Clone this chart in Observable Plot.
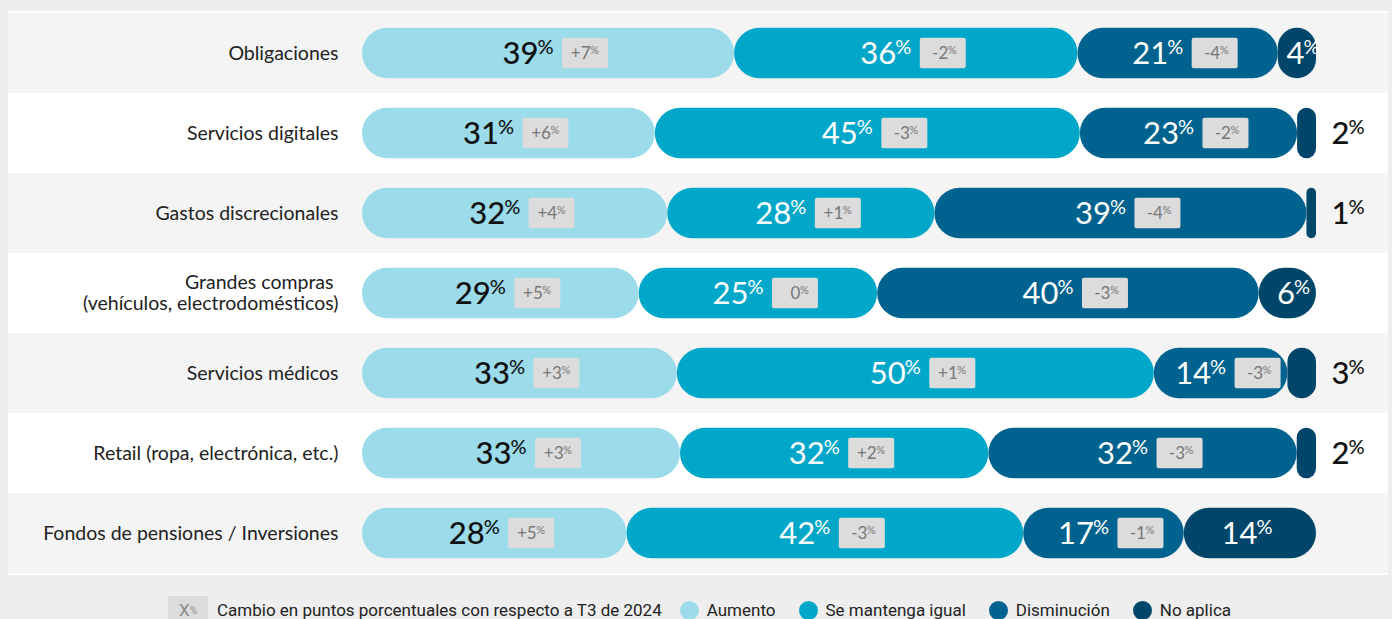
<!DOCTYPE html>
<html><head><meta charset="utf-8">
<script src="https://cdn.jsdelivr.net/npm/d3@7"></script>
<script src="https://cdn.jsdelivr.net/npm/@observablehq/plot@0.6"></script>
<style>
html,body{margin:0;padding:0;background:#eeeeee;width:1392px;height:619px;overflow:hidden;}
#chart{position:absolute;left:8px;top:11px;width:1380px;}
#chart svg{display:block;}
#legend{position:absolute;left:168px;top:596px;height:28px;display:flex;align-items:center;font-family:Roboto,sans-serif;font-size:17px;color:#222;white-space:nowrap;}
#legend .box{width:40px;height:28px;background:#dcdcdc;color:#8a8a8a;display:flex;align-items:center;justify-content:center;font-size:17px;margin-right:9px;}
#legend .box sup{font-size:10px;vertical-align:6px;}
#legend .dot{width:19px;height:19px;border-radius:50%;display:inline-block;margin-right:8px;}
#legend .item{display:flex;align-items:center;margin-right:23px;}
</style>
</head><body>
<div id="chart"></div>
<div id="legend"></div>
<script>
const categories = [
  "Obligaciones",
  "Servicios digitales",
  "Gastos discrecionales",
  "Grandes compras \n(vehículos, electrodomésticos)",
  "Servicios médicos",
  "Retail (ropa, electrónica, etc.)",
  "Fondos de pensiones / Inversiones"
];
const seriesNames = ["Aumento", "Se mantenga igual", "Disminución", "No aplica"];
const seriesColors = ["#9bdbea", "#00a7c9", "#00628e", "#00466a"];
const aumento     = [39, 31, 32, 29, 33, 33, 28];
const igual       = [36, 45, 28, 25, 50, 32, 42];
const disminucion = [21, 23, 39, 40, 14, 32, 17];
const noAplica    = [4, 2, 1, 6, 3, 2, 14];
const cambioAumento     = ["+7", "+6", "+4", "+5", "+3", "+3", "+5"];
const cambioIgual       = ["-2", "-3", "+1", "0", "+1", "+2", "-3"];
const cambioDisminucion = ["-4", "-2", "-4", "-3", "-3", "-3", "-1"];
const legendNote = "Cambio en puntos porcentuales con respecto a T3 de 2024";

const values = [aumento, igual, disminucion, noAplica];
const changes = [cambioAumento, cambioIgual, cambioDisminucion, null];
const rows = [];
categories.forEach((c, i) => {
  seriesNames.forEach((s, j) => {
    rows.push({category: c, series: s, value: values[j][i], change: changes[j] ? changes[j][i] : null});
  });
});

const stk = () => Plot.stackX({x: "value", y: "category", offset: "normalize"});
const isNA = d => d.series === "No aplica";
const naInside = d => isNA(d) && d.value >= 4;

function pctLabel(pred, fill, dx, atEnd, weight) {
  const s = stk();
  const base = atEnd ? {...s, x: s.x2} : s;
  return [
    Plot.text(rows, {...base, text: d => pred(d) ? String(d.value) : null, textAnchor: "end", dx, dy: 1, fill, fontSize: 31, fontWeight: weight}),
    Plot.text(rows, {...base, text: d => pred(d) ? "%" : null, textAnchor: "start", dx: dx - 1, dy: -6, fill, fontSize: 20, fontWeight: weight})
  ];
}

const sb = stk();
const sc = stk();
const sc2 = stk();

const plot = Plot.plot({
  width: 1380,
  height: 564,
  marginLeft: 354,
  marginRight: 72,
  marginTop: 0,
  marginBottom: 0,
  x: {domain: [0, 1], axis: null},
  y: {domain: categories, axis: null, padding: 0},
  color: {domain: seriesNames, range: seriesColors},
  style: {fontFamily: "Lato, sans-serif", background: "#ffffff", overflow: "visible"},
  marks: [
    Plot.cell(categories, {y: d => d, fill: "#f4f4f4", filter: (d, i) => i % 2 === 0, insetLeft: -354, insetRight: -72}),
    Plot.barX(rows, Plot.stackX({x: "value", y: "category", fill: "series", offset: "normalize", insetTop: 14.8, insetBottom: 14.8})),
    Plot.barX(rows, {...sb, x1: sb.x, x2: sb.x, fill: "#dcdcdc", fillOpacity: d => d.change == null ? 0 : 1, insetTop: 24.8, insetBottom: 24.8, insetLeft: 14, insetRight: -60, rx: 2}),
    Plot.text(rows, {...sc, text: d => d.change, textAnchor: "end", dx: 42, dy: 0.5, fill: "#777", fontSize: 17}),
    Plot.text(rows, {...sc2, text: d => d.change == null ? null : "%", textAnchor: "start", dx: 41.5, dy: -3, fill: "#777", fontSize: 11}),
    ...pctLabel(d => d.series === "Aumento", "#111", -10, false, 500),
    ...pctLabel(d => d.series === "Se mantenga igual" || d.series === "Disminución", "#fff", -10, false, 400),
    ...pctLabel(naInside, "#fff", 7, false, 400),
    ...pctLabel(d => isNA(d) && !naInside(d), "#111", 33, true, 500),
    Plot.text(categories, {y: d => d, text: d => d, frameAnchor: "left", textAnchor: "end", dx: -24, fontSize: 19.5, fill: "#222", lineHeight: 1.12, dy: -1})
  ]
});
document.getElementById("chart").appendChild(plot);

// round segment ends into pills
const segG = plot.querySelectorAll('g[aria-label="bar"]')[0];
segG.querySelectorAll("rect").forEach(r => {
  const w = +r.getAttribute("width"), h = +r.getAttribute("height");
  const rr = Math.min(w, h) / 2;
  r.setAttribute("rx", rr);
  r.setAttribute("ry", rr);
});

// legend
const lg = document.getElementById("legend");
const box = document.createElement("div");
box.className = "box";
box.innerHTML = "X<sup>%</sup>";
lg.appendChild(box);
const note = document.createElement("div");
note.className = "item";
note.style.marginRight = "18px";
note.textContent = legendNote;
lg.appendChild(note);
seriesNames.forEach((s, i) => {
  const it = document.createElement("div");
  it.className = "item";
  const dot = document.createElement("span");
  dot.className = "dot";
  dot.style.background = seriesColors[i];
  it.appendChild(dot);
  it.appendChild(document.createTextNode(s));
  lg.appendChild(it);
});
</script>
</body></html>
